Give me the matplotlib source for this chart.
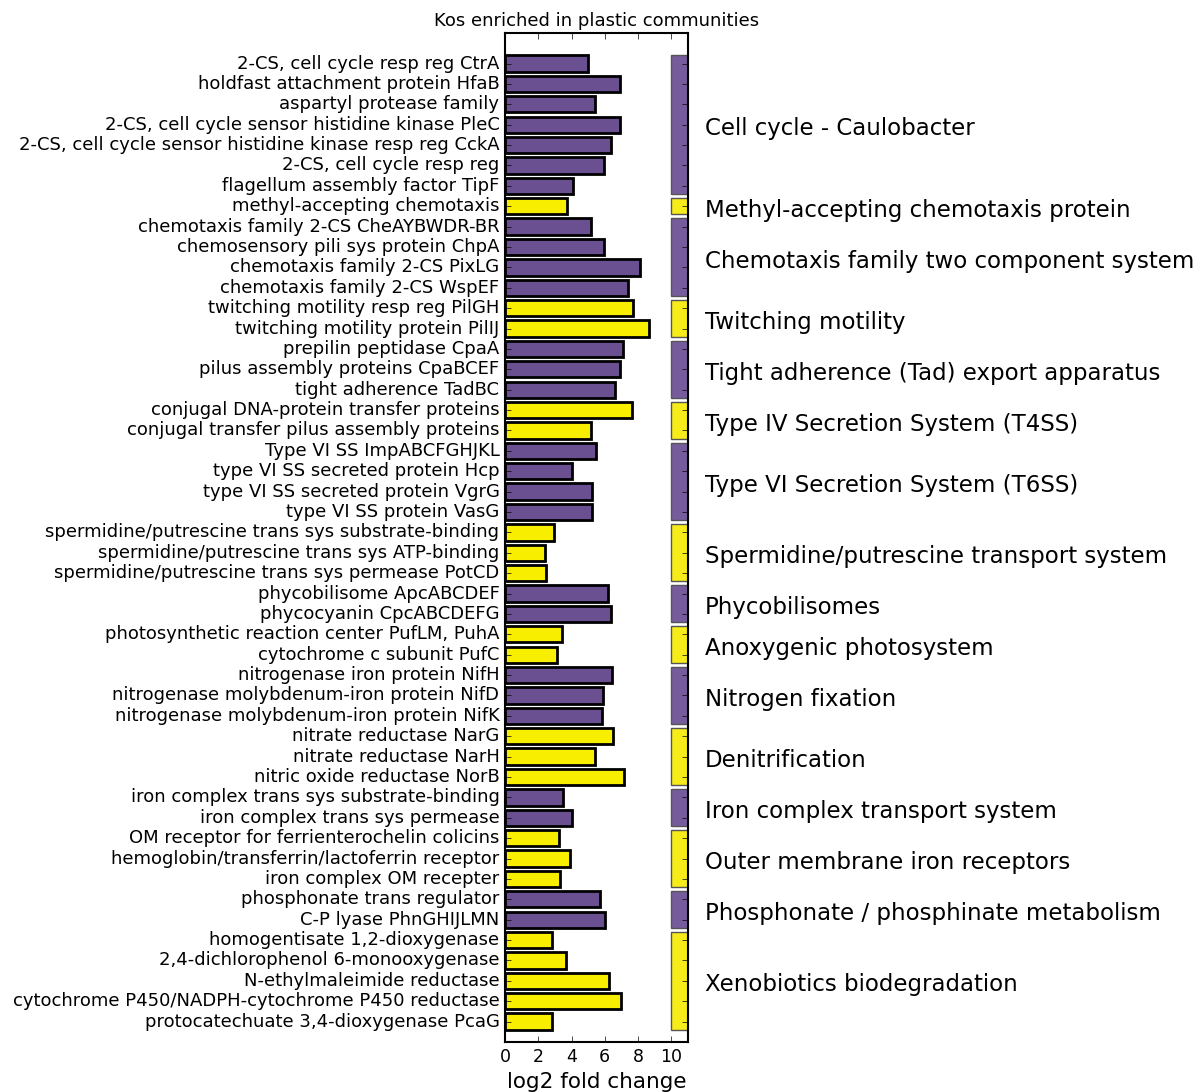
import numpy as np
import matplotlib
matplotlib.use("Agg")
import matplotlib.pyplot as plt

# ----- DATA -----
LABELS = [
    "2-CS, cell cycle resp reg CtrA",
    "holdfast attachment protein HfaB",
    "aspartyl protease family",
    "2-CS, cell cycle sensor histidine kinase PleC",
    "2-CS, cell cycle sensor histidine kinase resp reg CckA",
    "2-CS, cell cycle resp reg",
    "flagellum assembly factor TipF",
    "methyl-accepting chemotaxis",
    "chemotaxis family 2-CS CheAYBWDR-BR",
    "chemosensory pili sys protein ChpA",
    "chemotaxis family 2-CS PixLG",
    "chemotaxis family 2-CS WspEF",
    "twitching motility resp reg PilGH",
    "twitching motility protein PilIJ",
    "prepilin peptidase CpaA",
    "pilus assembly proteins CpaBCEF",
    "tight adherence TadBC",
    "conjugal DNA-protein transfer proteins",
    "conjugal transfer pilus assembly proteins",
    "Type VI SS ImpABCFGHJKL",
    "type VI SS secreted protein Hcp",
    "type VI SS secreted protein VgrG",
    "type VI SS protein VasG",
    "spermidine/putrescine trans sys substrate-binding",
    "spermidine/putrescine trans sys ATP-binding",
    "spermidine/putrescine trans sys permease PotCD",
    "phycobilisome ApcABCDEF",
    "phycocyanin CpcABCDEFG",
    "photosynthetic reaction center PufLM, PuhA",
    "cytochrome c subunit PufC",
    "nitrogenase iron protein NifH",
    "nitrogenase molybdenum-iron protein NifD",
    "nitrogenase molybdenum-iron protein NifK",
    "nitrate reductase NarG",
    "nitrate reductase NarH",
    "nitric oxide reductase NorB",
    "iron complex trans sys substrate-binding",
    "iron complex trans sys permease",
    "OM receptor for ferrienterochelin colicins",
    "hemoglobin/transferrin/lactoferrin receptor",
    "iron complex OM recepter",
    "phosphonate trans regulator",
    "C-P lyase PhnGHIJLMN",
    "homogentisate 1,2-dioxygenase",
    "2,4-dichlorophenol 6-monooxygenase",
    "N-ethylmaleimide reductase",
    "cytochrome P450/NADPH-cytochrome P450 reductase",
    "protocatechuate 3,4-dioxygenase PcaG",
]

LOG2FC = [
    5.0, 6.9, 5.4, 6.9, 6.4, 5.95, 4.1,
    3.75,
    5.15, 5.95, 8.1, 7.4,
    7.7, 8.65,
    7.1, 6.9, 6.6,
    7.65, 5.2,
    5.45, 4.05, 5.25, 5.25,
    2.95, 2.4, 2.45,
    6.2, 6.35,
    3.45, 3.1,
    6.45, 5.9, 5.85,
    6.5, 5.4, 7.15,
    3.5, 4.0, 3.25, 3.9, 3.3,
    5.7, 6.0,
    2.85, 3.65, 6.25, 6.95, 2.85,
]

GROUPS = [
    "Cell cycle - Caulobacter",
    "Methyl-accepting chemotaxis protein",
    "Chemotaxis family two component system",
    "Twitching motility",
    "Tight adherence (Tad) export apparatus",
    "Type IV Secretion System (T4SS)",
    "Type VI Secretion System (T6SS)",
    "Spermidine/putrescine transport system",
    "Phycobilisomes",
    "Anoxygenic photosystem",
    "Nitrogen fixation",
    "Denitrification",
    "Iron complex transport system",
    "Outer membrane iron receptors",
    "Phosphonate / phosphinate metabolism",
    "Xenobiotics biodegradation",
]
GROUP_SIZES = [7, 1, 4, 2, 3, 2, 4, 3, 2, 2, 3, 3, 2, 3, 2, 5]

PURPLE = "#6a4f91"
YELLOW = "#f8ef00"
PURPLE_BOX = "#775c9d"
YELLOW_BOX = "#f6ec1a"
# ------------------


def main():
    plt.style.use("classic")
    plt.rcParams["figure.facecolor"] = "white"
    plt.rcParams["savefig.facecolor"] = "white"
    plt.rcParams["axes.linewidth"] = 1.5

    fig = plt.figure(figsize=(12, 10.92), dpi=100)
    ax = fig.add_axes([0.4208, 0.0458, 0.1525, 0.924])

    n = len(LABELS)
    ypos = np.arange(n)

    colors = []
    start = 0
    for gi, size in enumerate(GROUP_SIZES):
        c = PURPLE if gi % 2 == 0 else YELLOW
        cbox = PURPLE_BOX if gi % 2 == 0 else YELLOW_BOX
        colors += [c] * size
        # group box on the right side
        ax.bar(10, size - 0.2, width=1, bottom=start - 0.4, align="edge",
               color=cbox, edgecolor="#555555", linewidth=1, zorder=1)
        ax.text(12, start + (size - 1) / 2.0 + 0.2, GROUPS[gi], fontsize=16.5,
                va="center", ha="left", clip_on=False)
        start += size

    ax.barh(ypos, LOG2FC, height=0.8, align="center", color=colors,
            edgecolor="black", linewidth=2, zorder=2)

    ax.set_yticks(ypos)
    ax.set_yticklabels(LABELS, fontsize=13)
    ax.set_xticks([0, 2, 4, 6, 8, 10])
    ax.tick_params(axis="x", labelsize=12.5)
    ax.set_xlim(0, 11)
    ax.set_ylim(48.0, -1.5)
    ax.set_xlabel("log2 fold change", fontsize=15.5)
    ax.set_title("Kos enriched in plastic communities", fontsize=13)

    plt.savefig("out.png", dpi=100)
    plt.close()


if __name__ == "__main__":
    main()
